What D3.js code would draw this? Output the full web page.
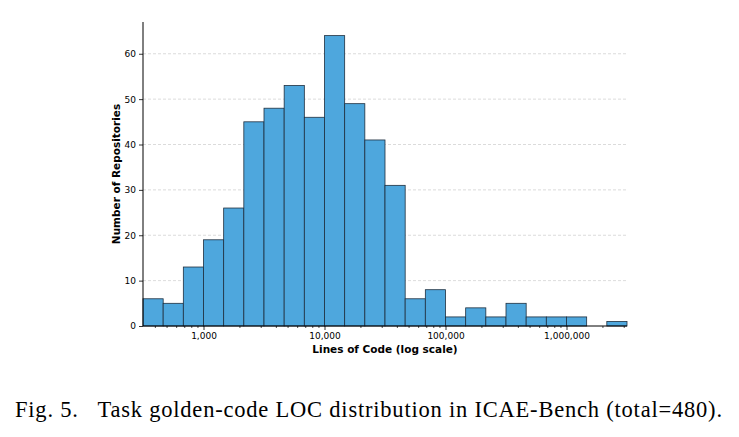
<!DOCTYPE html>
<html><head><meta charset="utf-8">
<script src="https://cdn.jsdelivr.net/npm/d3@7"></script>
<style>body{margin:0;background:#fff}</style>
</head><body>
<script>
// histogram counts, 6 bins per decade from 10^2.5 to 10^6.5
const counts = [6,5,13,19,26,45,48,53,46,64,49,41,31,6,8,2,4,2,5,2,2,2,0,1];
const binStart = 2.5, binsPerDecade = 6;
const yTicks = [0,10,20,30,40,50,60];
const xTicks = [1e3,1e4,1e5,1e6];

const width = 739, height = 437;
const svg = d3.select("body").append("svg").attr("width", width).attr("height", height);

const x = d3.scaleLog().domain([Math.pow(10,2.5), Math.pow(10,6.5)]).range([143, 627]);
const y = d3.scaleLinear().domain([0, 67]).range([326, 22]);

const g = svg.append("g");
// grid
g.selectAll("line.grid").data(yTicks.slice(1)).enter().append("line")
  .attr("x1", 143).attr("x2", 627).attr("y1", d => y(d)).attr("y2", d => y(d))
  .attr("stroke", "#ccc").attr("stroke-dasharray", "3,2").attr("stroke-width", 0.7);

g.selectAll("rect").data(counts).enter().append("rect")
  .attr("x", (d,i) => x(Math.pow(10, binStart + i/binsPerDecade)))
  .attr("width", (d,i) => x(Math.pow(10, binStart + (i+1)/binsPerDecade)) - x(Math.pow(10, binStart + i/binsPerDecade)))
  .attr("y", d => y(d)).attr("height", d => y(0) - y(d))
  .attr("fill", "#4ea7dd").attr("stroke", "#1f2f3f").attr("stroke-width", 0.8);

const xAxis = svg.append("g").attr("transform", "translate(0,326)")
  .call(d3.axisBottom(x).tickValues(xTicks).tickFormat(d3.format(",")).tickSize(4));
// minor ticks
const minor = [];
for (let e = 2; e <= 6; e++) for (let m = 2; m <= 9; m++) { const v = m*Math.pow(10,e); if (v > x.domain()[0] && v < x.domain()[1]) minor.push(v); }
xAxis.selectAll("line.minor").data(minor).enter().append("line")
  .attr("x1", d => x(d)).attr("x2", d => x(d)).attr("y1", 0).attr("y2", 2).attr("stroke", "#000").attr("stroke-width", 0.7);
xAxis.select(".domain").attr("d", "M143,0H627");

const yAxis = svg.append("g").attr("transform", "translate(143,0)")
  .call(d3.axisLeft(y).tickValues(yTicks).tickSize(4));
yAxis.select(".domain").attr("d", "M0,326V22");

svg.selectAll(".tick text").attr("font-family", "DejaVu Sans").attr("font-size", 9);
svg.selectAll(".tick line").attr("stroke-width", 0.8);

svg.append("text").attr("x", 385).attr("y", 353).attr("text-anchor", "middle")
  .attr("font-family", "DejaVu Sans").attr("font-weight", "bold").attr("font-size", 10.5)
  .text("Lines of Code (log scale)");
svg.append("text").attr("transform", "translate(120,174) rotate(-90)").attr("text-anchor", "middle")
  .attr("font-family", "DejaVu Sans").attr("font-weight", "bold").attr("font-size", 10.5)
  .text("Number of Repositories");

svg.append("text").attr("x", 15).attr("y", 417)
  .attr("font-family", "Liberation Serif").attr("font-size", 22.5)
  .style("white-space", "pre")
  .attr("textLength", 707).attr("lengthAdjust", "spacing")
  .text("Fig. 5.   Task golden-code LOC distribution in ICAE-Bench (total=480).");
</script>
</body></html>
